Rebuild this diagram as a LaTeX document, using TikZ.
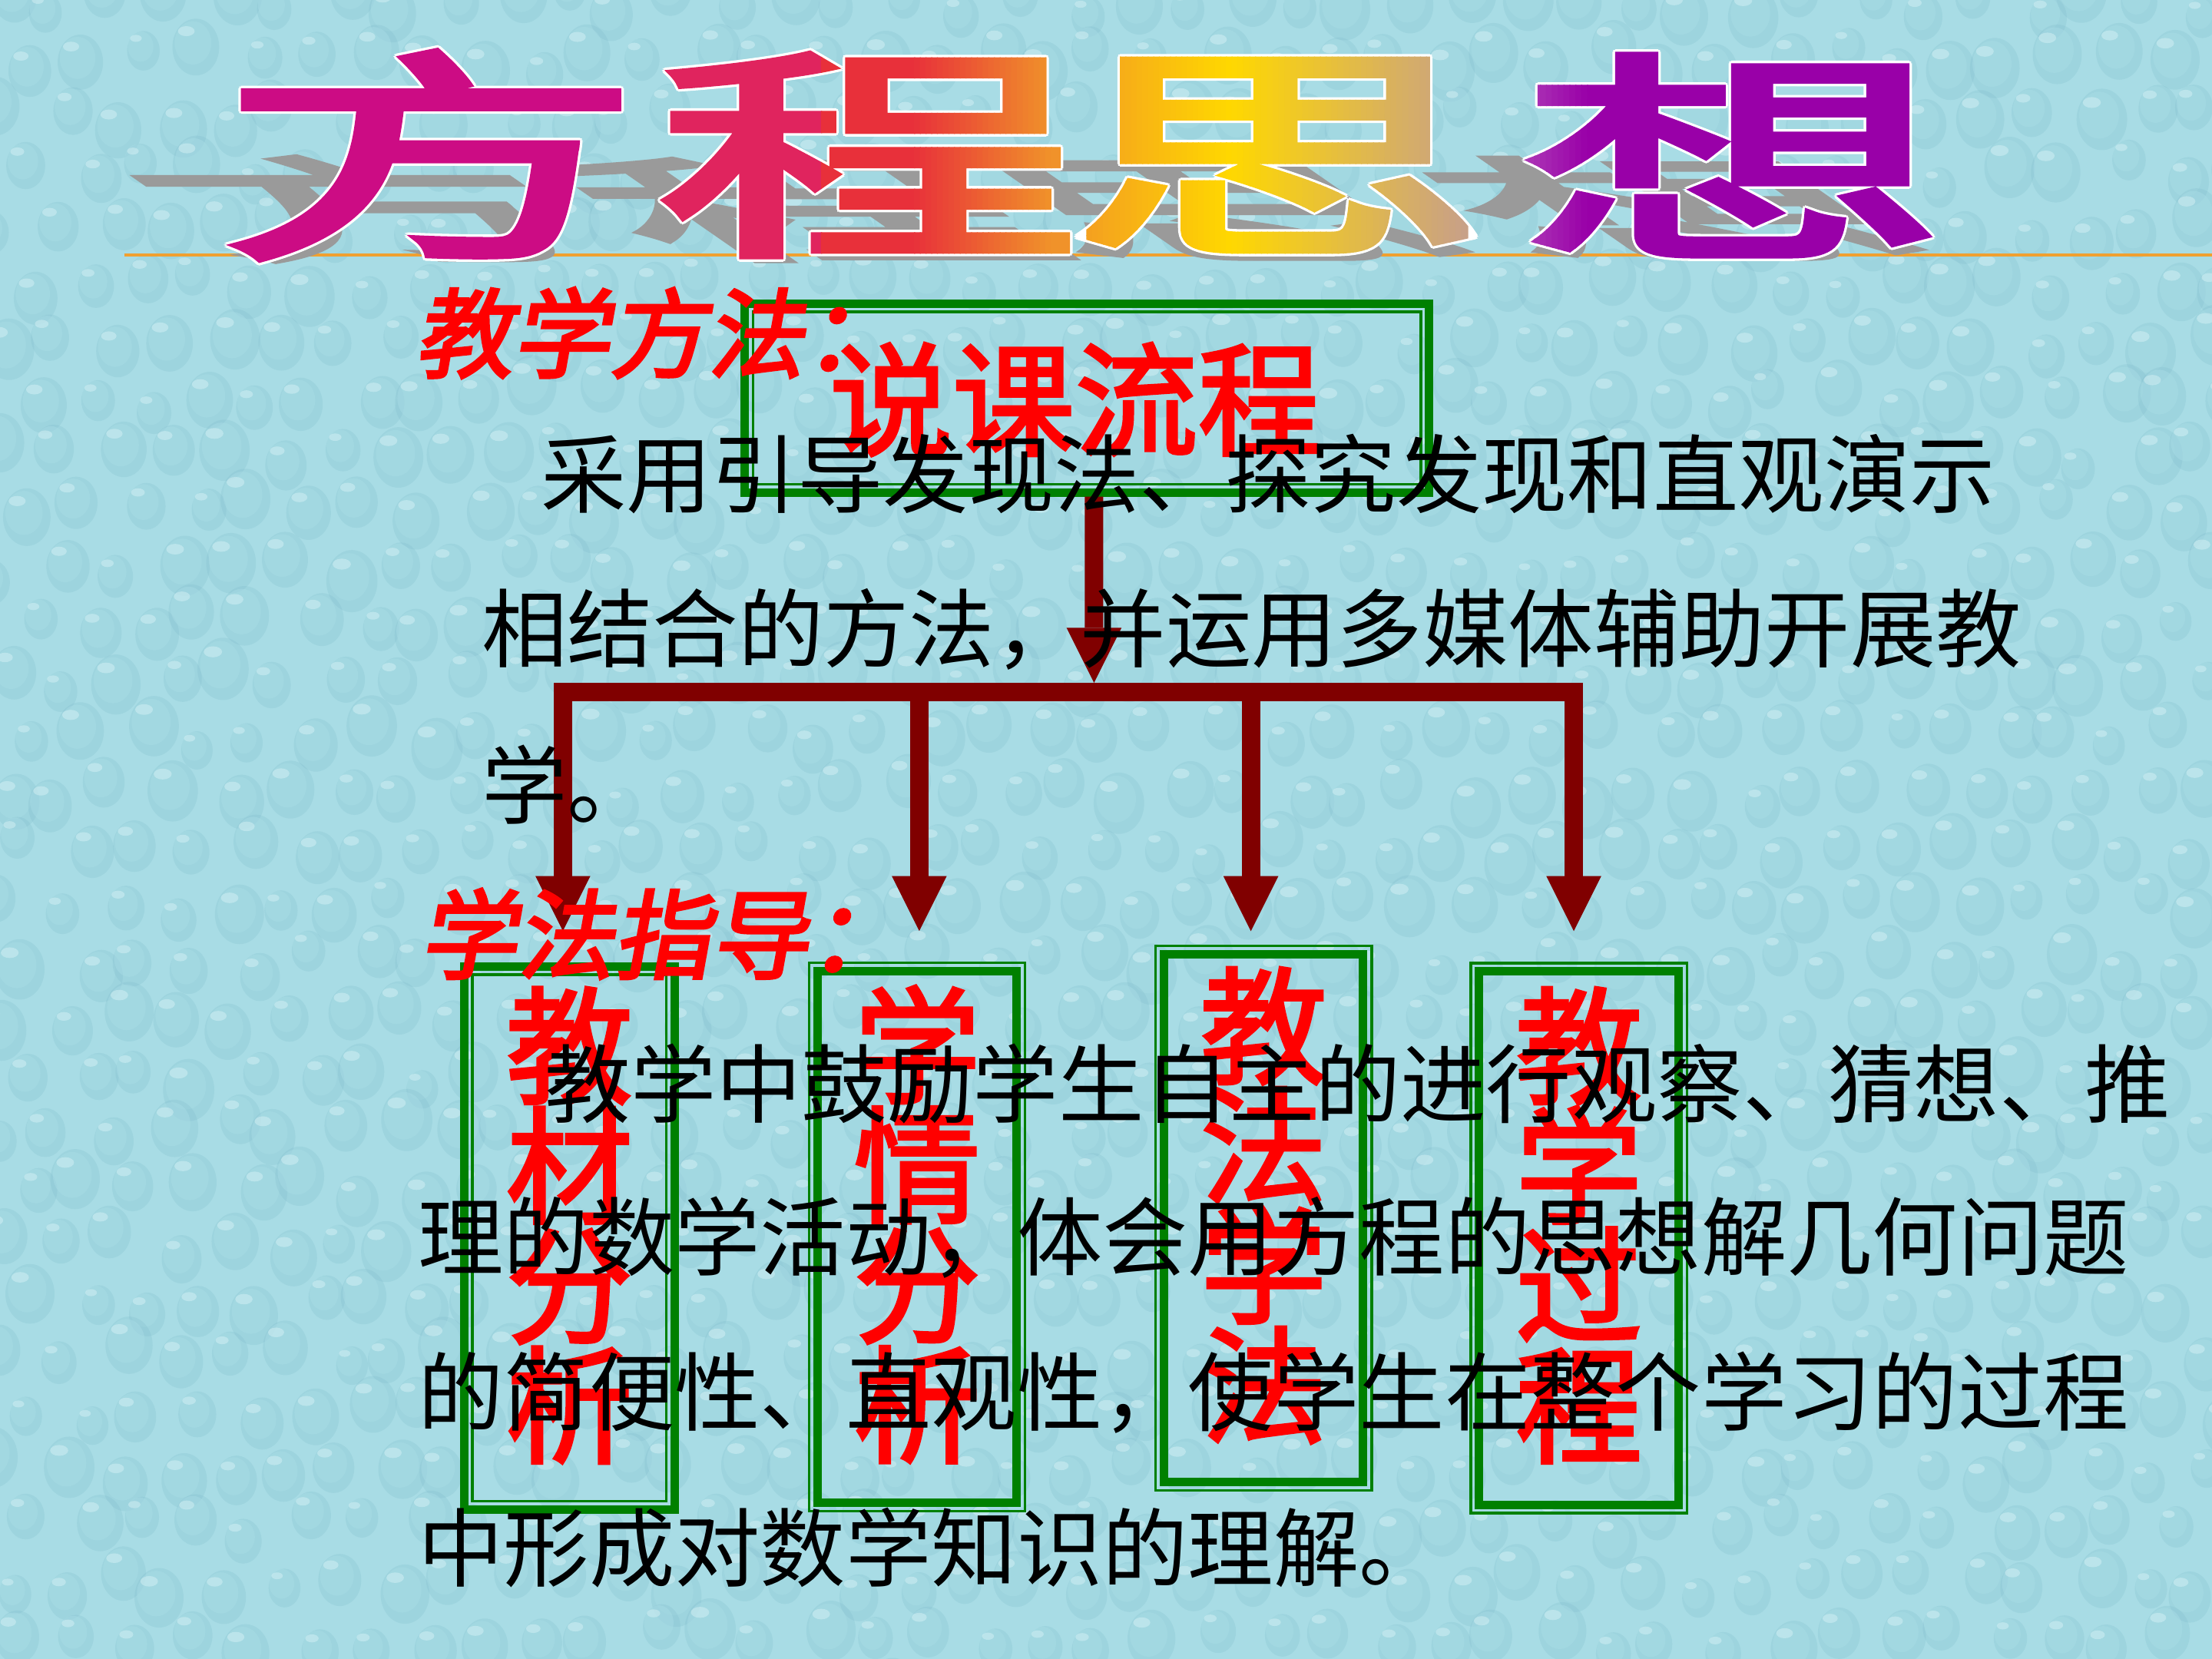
\documentclass[tikz,border=0pt]{standalone}
\usepackage{fontspec}
\usepackage{tikz}
\usetikzlibrary{arrows.meta, positioning, calc}
\newfontfamily\cjk{Noto Sans CJK SC}
\newfontfamily\cjkheavy[FakeBold=3]{Noto Sans CJK SC}
\newfontfamily\cjkbrush[FakeBold=3,FakeSlant=0.18]{Noto Sans CJK SC}
\newfontfamily\cjkmid[FakeBold=2.4]{Noto Sans CJK SC}
\definecolor{slidebg}{HTML}{A8DCE5}
\definecolor{dropshade}{HTML}{7AB8C8}
\definecolor{droplight}{HTML}{E2F7FA}
\definecolor{rulegold}{HTML}{F0A030}
\definecolor{shadowgray}{HTML}{9A9A9A}
\definecolor{fangpink}{HTML}{CC0C84}
\definecolor{chengrose}{HTML}{E0245E}
\definecolor{chengred}{HTML}{E8303A}
\definecolor{chengorange}{HTML}{F0922A}
\definecolor{sigold}{HTML}{F4A020}
\definecolor{siyellow}{HTML}{FFD800}
\definecolor{situn}{HTML}{C8A088}
\definecolor{xianglilac}{HTML}{B040B8}
\definecolor{xiangpurple}{HTML}{9900A8}
\definecolor{boxgreen}{HTML}{008000}
\definecolor{arrowred}{HTML}{800000}
\AtBeginDocument{\lineskiplimit=-50pt}

% title glyph #1 at x=#2, coloured in #7 strips from #5 to #6 between x=#3 and x=#4
\newcommand{\titlepart}[7]{%
  \foreach \i in {1,...,#7}{%
    \pgfmathsetmacro{\stripa}{#3+(#4-#3)*(\i-1)/#7}%
    \pgfmathsetmacro{\stripb}{#3+(#4-#3)*\i/#7+0.7}%
    \pgfmathtruncatemacro{\stripp}{100*(#7-\i+0.5)/#7}%
    \colorlet{stripcol}{#5!\stripp!#6}%
    \begin{scope}
      \clip (\stripa,20) rectangle (\stripb,200);
      \begin{scope}[shift={(#2,110)}, xscale=1.9]
        \node[titlechar, text=stripcol] (tstrip) at (0,0) {#1};
      \end{scope}
    \end{scope}
  }%
}

\begin{document}
\begin{tikzpicture}[x=0.0183673cm, y=-0.0183673cm,
  titlechar/.style={font=\cjkheavy\fontsize{82.6}{90}\selectfont, inner sep=0, transform shape},
  boxthick/.style={rectangle, draw=boxgreen, line width=3.1pt, inner sep=0, outer sep=0},
  boxthin/.style={rectangle, draw=boxgreen, line width=1pt, inner sep=0, outer sep=0},
  boxword/.style={text=red, font=\cjkmid\fontsize{47}{44.4}\selectfont, align=center, inner sep=0},
  flowword/.style={text=red, font=\cjkmid\fontsize{45.5}{50}\selectfont, inner sep=0},
  heading/.style={text=red, font=\cjkbrush\fontsize{36}{40}\selectfont, inner sep=0, anchor=west},
  body/.style={font=\cjk\fontsize{31.7}{36}\selectfont, inner sep=0, anchor=west},
  arrow/.style={draw=arrowred, line width=6.8pt, -{Triangle[length=20.4pt, width=20.4pt, line width=0pt]}}]

\fill[slidebg] (0,0) rectangle (1568,1176);
\useasboundingbox (0,0) rectangle (1568,1176);

% water drops
\pgfmathsetseed{17}
\begin{scope}
\clip (0,0) rectangle (1568,1176);
\foreach \r in {0,...,30}{
  \foreach \c in {0,...,40}{
    \pgfmathsetmacro{\dx}{\c*40+20*mod(\r,2)+rand*10}
    \pgfmathsetmacro{\dy}{\r*40+rand*10}
    \pgfmathsetmacro{\ds}{0.8+0.5*rnd}
    \fill[dropshade, fill opacity=0.22] (\dx+2,\dy+3) ellipse [x radius=14*\ds, y radius=17*\ds];
    \fill[slidebg, fill opacity=0.5] (\dx,\dy) ellipse [x radius=11*\ds, y radius=13*\ds];
    \fill[droplight, fill opacity=0.4] (\dx-4*\ds,\dy-7*\ds) ellipse [x radius=5*\ds, y radius=3*\ds];
  }
}
\end{scope}

\draw[rulegold, line width=1pt] (88,180.8) -- (1568,180.8);

% title
\foreach \ch/\cx in {方/305,程/615,思/905,想/1228}{
  \begin{scope}[shift={(\cx,179)}, xslant=-1.44, yscale=0.51, xscale=1.9]
    \node[titlechar, text=shadowgray, anchor=base] (shade) at (0,0) {\ch};
  \end{scope}
}
\foreach \ch/\cx in {方/305,程/615,思/905,想/1228}{
  \foreach \dx/\dy in {-1.8/0,1.8/0,0/-1.8,0/1.8,-1.3/-1.3,1.3/-1.3,-1.3/1.3,1.3/1.3}{
    \begin{scope}[shift={(\cx+\dx,110+\dy)}, xscale=1.9]
      \node[titlechar, text=white] (rim) at (0,0) {\ch};
    \end{scope}
  }
}
\titlepart{方}{305}{160}{450}{fangpink}{fangpink}{1}
\titlepart{程}{615}{460}{582}{chengrose}{chengrose}{1}
\titlepart{程}{615}{582}{648}{chengred}{chengred}{1}
\titlepart{程}{615}{648}{745}{chengred}{chengorange}{24}
\titlepart{程}{615}{745}{770}{chengorange}{chengorange}{1}
\titlepart{思}{905}{770}{873}{sigold}{siyellow}{26}
\titlepart{思}{905}{873}{1040}{siyellow}{situn}{40}
\titlepart{想}{1228}{1075}{1125}{xianglilac}{xiangpurple}{12}
\titlepart{想}{1228}{1125}{1390}{xiangpurple}{xiangpurple}{1}

% boxes
\node[boxthick, minimum width=8.908cm, minimum height=2.456cm] (flow) at (770.5,282.2) {};
\node[boxthick, minimum width=2.737cm, minimum height=7.068cm] (b1) at (403.6,877.6) {};
\node[boxthin, minimum width=2.810cm, minimum height=7.141cm] (b2) at (650.1,876.9) {};
\node[boxthin, minimum width=2.812cm, minimum height=7.088cm] (b3) at (895.7,863.5) {};
\node[boxthin, minimum width=2.814cm, minimum height=7.165cm] (b4) at (1119.2,877.6) {};
\foreach \b in {flow,b1}
  \draw[boxgreen, line width=1pt] ([shift={(3pt,-3pt)}]\b.north west) rectangle ([shift={(-3pt,3pt)}]\b.south east);
\foreach \b in {b2,b3,b4}
  \draw[boxgreen, line width=3.1pt] ([shift={(3.1pt,-3.1pt)}]\b.north west) rectangle ([shift={(-3.1pt,3.1pt)}]\b.south east);

\node[flowword] (flowtitle) at ([xshift=-4.4pt,yshift=-0.5pt]flow.center) {说课流程};
\node[boxword] (w1) at ([yshift=4.7pt]b1.center) {教\\材\\分\\析};
\node[boxword] (w2) at ([yshift=4.7pt]b2.center) {学\\情\\分\\析};
\node[boxword] (w3) at ([yshift=4.7pt]b3.center) {教\\法\\学\\法};
\node[boxword] (w4) at ([yshift=4.7pt]b4.center) {教\\学\\过\\程};

% arrows
\coordinate (hub) at (775.5,490.5);
\coordinate (tip1) at ([xshift=-2.4pt,yshift=13.2pt]b1.north);
\coordinate (tip2) at ([xshift=0.8pt,yshift=11.8pt]b2.north);
\coordinate (tip3) at ([xshift=-4.7pt,yshift=5.5pt]b3.north);
\coordinate (tip4) at ([xshift=-1.9pt,yshift=11.8pt]b4.north);
\draw[arrow] ([xshift=2.6pt,yshift=-1.6pt]flow.south) -- ([yshift=3.4pt]hub);
\draw[arrow] (hub) -| (tip1);
\draw[arrow] (hub) -| (tip4);
\draw[arrow] (hub -| tip2) -- (tip2);
\draw[arrow] (hub -| tip3) -- (tip3);

% text
\node[heading] (method) at (294,236) {教学方法：};
\node[heading] (guide) at (297,662) {学法指导：};
\node[body] (p1) at (383,336) {采用引导发现法、探究发现和直观演示};
\node[body] (p2) at (341,446) {相结合的方法，并运用多媒体辅助开展教};
\node[body] (p3) at (341,556) {学。};
\node[body] (p4) at (386,768) {教学中鼓励学生自主的进行观察、猜想、推};
\node[body] (p5) at (296,877) {理的数学活动，体会用方程的思想解几何问题};
\node[body] (p6) at (296,987) {的简便性、直观性，使学生在整个学习的过程};
\node[body] (p7) at (296,1097) {中形成对数学知识的理解。};
\end{tikzpicture}
\end{document}
